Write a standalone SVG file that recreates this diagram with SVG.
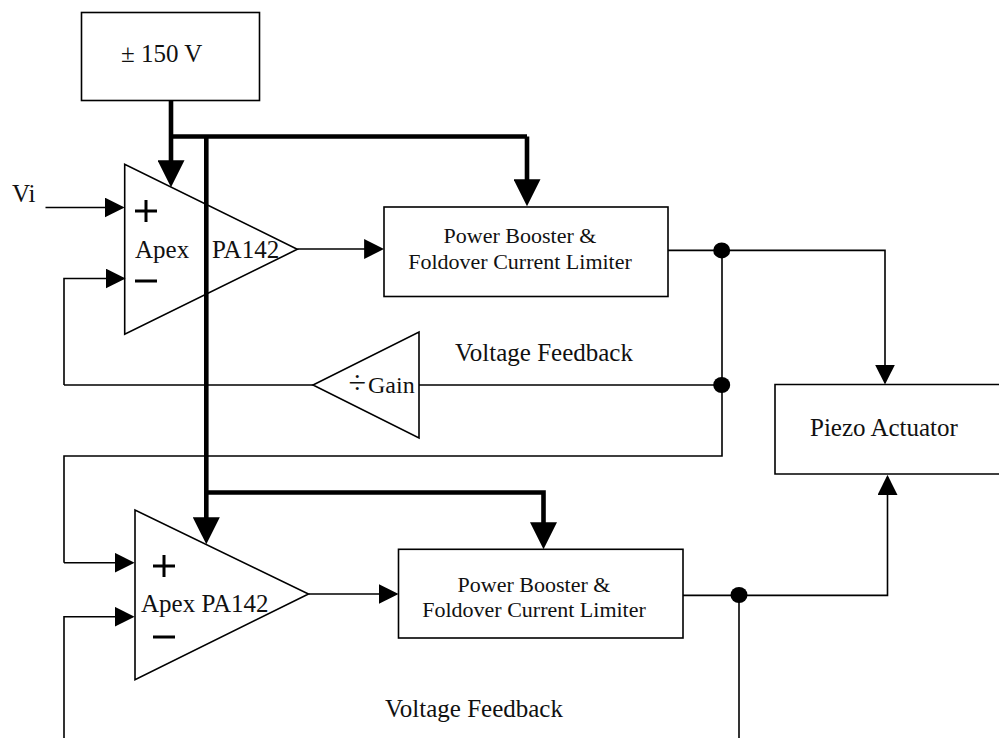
<svg xmlns="http://www.w3.org/2000/svg" width="999" height="738" viewBox="0 0 999 738">
<style>
.n{fill:none;stroke:#000;stroke-width:1.6}
.t{font-family:"Liberation Serif","Times New Roman",serif;font-size:25px;fill:#111}
.s{font-family:"Liberation Serif","Times New Roman",serif;font-size:22px;fill:#111;text-anchor:middle}
.w{fill:none;stroke:#000;stroke-width:1.6}
.k{fill:none;stroke:#000;stroke-width:4.6}
.a{marker-end:url(#ah)}
.b{marker-end:url(#bh)}
.p{fill:none;stroke:#000;stroke-width:3}
</style>
<defs>
<marker id="ah" markerUnits="userSpaceOnUse" markerWidth="20" markerHeight="20" viewBox="0 0 19 19" refX="17" refY="9.5" orient="auto"><path d="M0 0L19 9.5L0 19Z" fill="#000"/></marker>
<marker id="bh" markerUnits="userSpaceOnUse" markerWidth="27" markerHeight="27" viewBox="0 0 26 26" refX="20" refY="13" orient="auto"><path d="M0 0L26 13L0 26Z" fill="#000"/></marker>
</defs>
<rect width="999" height="738" fill="#fff"/>
<g id="supply"><rect class="n" x="81.5" y="12.5" width="178" height="88"/><text class="t" x="121" y="62">±<tspan x="141">150 V</tspan></text></g>
<g id="vi-label"><text class="t" x="12" y="202">Vi</text></g>
<g id="amp1"><path class="n" d="M124.7 164.3V334.3L297.3 249.3Z"/><path class="p" d="M135 211H157M146 200V222M135 281H157"/><text class="t" x="135" y="258">Apex</text><text class="t" x="212" y="258">PA142</text></g>
<g id="booster1"><rect class="n" x="384" y="207" width="284" height="89.5"/><text class="s" x="520" y="243">Power Booster &amp;</text><text class="s" x="520" y="269">Foldover Current Limiter</text></g>
<g id="gain"><path class="n" d="M419 332V438L313 385Z"/><text class="t" x="348.500" y="393" style="font-size:24px"><tspan style="font-size:32px">÷</tspan><tspan x="368">Gain</tspan></text></g>
<g id="fb1-label"><text class="t" x="455" y="361">Voltage Feedback</text></g>
<g id="piezo"><path class="n" d="M1003 384.5H775V474H1003"/><text class="t" x="810" y="436">Piezo Actuator</text></g>
<g id="amp2"><path class="n" d="M135 510V679.7L308.5 594Z"/><path class="p" d="M153 566H175M164 555V577M153 637H175"/><text class="t" x="141" y="612">Apex PA142</text></g>
<g id="booster2"><rect class="n" x="398.5" y="549.3" width="284.5" height="88.7"/><text class="s" x="534" y="592">Power Booster &amp;</text><text class="s" x="534" y="617">Foldover Current Limiter</text></g>
<g id="fb2-label"><text class="t" x="385" y="717">Voltage Feedback</text></g>
<g id="connectors">
<path class="k b" d="M171 100V181"/>
<path class="k" d="M171 136.5H527"/>
<path class="k b" d="M527 136.5V200"/>
<path class="k b" d="M206.3 136.5V538"/>
<path class="k b" d="M206.3 492.5H543.5V543"/>
<path class="w a" d="M45.5 207.5H122.5"/>
<path class="w a" d="M64 385V278.5H123.5"/>
<path class="w" d="M64 385H313M419 385H722M722 250V456H64V562.7"/>
<path class="w a" d="M64 562.7H132.5"/>
<path class="w a" d="M64 738V616.7H132.5"/>
<path class="w a" d="M297.3 249H382"/>
<path class="w a" d="M308.5 594H396.5"/>
<path class="w a" d="M668 250.4H885V382.5"/>
<path class="w a" d="M683 595.4H887.5V477"/>
<path class="w" d="M739 595V738"/>
<ellipse cx="721.7" cy="250.4" rx="8.5" ry="8"/>
<ellipse cx="721.7" cy="385" rx="8.5" ry="8"/>
<ellipse cx="739" cy="595" rx="8.5" ry="8"/>
</g>
</svg>
